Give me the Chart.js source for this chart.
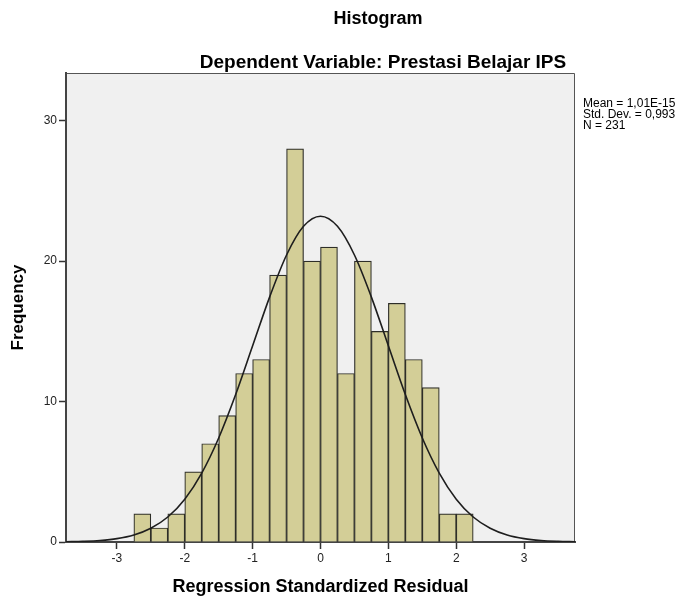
<!DOCTYPE html>
<html lang="en">
<head>
  <meta charset="UTF-8">
  <title>Histogram</title>
  <script src="https://cdn.jsdelivr.net/npm/chart.js"></script>
  <style>
    html, body { margin: 0; padding: 0; background: #ffffff; }
    #wrap { position: relative; width: 691px; height: 602px; }
  </style>
</head>
<body>
  <div id="wrap">
    <canvas id="histChart" width="691" height="602"></canvas>
  </div>

  <script>
    // bin centres (bin width 0.25) and counts
    const binCenters = [-2.625, -2.375, -2.125, -1.875, -1.625, -1.375, -1.125, -0.875, -0.625, -0.375,
                        -0.125, 0.125, 0.375, 0.625, 0.875, 1.125, 1.375, 1.625, 1.875, 2.125];
    const frequencies = [2, 1, 2, 5, 7, 9, 12, 13, 19, 28, 20, 21, 12, 20, 15, 17, 13, 11, 2, 2];

    // normal curve
    const curveX = [-3.75, -3.5, -3.25, -3, -2.75, -2.5, -2.25, -2, -1.75, -1.5, -1.25, -1, -0.75, -0.5, -0.25,
                    0, 0.25, 0.5, 0.75, 1, 1.25, 1.5, 1.75, 2, 2.25, 2.5, 2.75, 3, 3.25, 3.5, 3.75];
    const curveY = [0.02, 0.05, 0.11, 0.24, 0.50, 0.98, 1.78, 3.05, 4.91, 7.41, 10.50, 13.97, 17.44, 20.44, 22.48,
                    23.20, 22.48, 20.44, 17.44, 13.97, 10.50, 7.41, 4.91, 3.05, 1.78, 0.98, 0.50, 0.24, 0.11, 0.05, 0.02];

    const xTicks = [-3, -2, -1, 0, 1, 2, 3];
    const yTicks = [0, 10, 20, 30];
    const statsLines = ['Mean = 1,01E-15', 'Std. Dev. = 0,993', 'N = 231'];

    const FONT = '"Liberation Sans", Arial, sans-serif';

    // grey plot background + thin frame, titles and stats box
    const spssDecor = {
      id: 'spssDecor',
      beforeDraw(chart) {
        const { ctx, chartArea: a } = chart;
        ctx.save();
        ctx.fillStyle = '#f0f0f0';
        ctx.fillRect(a.left, a.top, a.right - a.left, a.bottom - a.top);
        ctx.strokeStyle = '#555555';
        ctx.lineWidth = 1;
        ctx.beginPath();
        ctx.moveTo(a.left, a.top + 0.5);
        ctx.lineTo(a.right - 0.5, a.top + 0.5);
        ctx.lineTo(a.right - 0.5, a.bottom);
        ctx.stroke();
        ctx.restore();
      },
      afterDraw(chart) {
        const { ctx, chartArea: a } = chart;
        ctx.save();
        ctx.fillStyle = '#000000';
        ctx.textBaseline = 'middle';
        ctx.textAlign = 'center';
        ctx.font = 'bold 18px ' + FONT;
        ctx.fillText('Histogram', 378, 19);
        ctx.font = 'bold 19px ' + FONT;
        ctx.fillText('Dependent Variable: Prestasi Belajar IPS', 383, 63);

        ctx.textAlign = 'left';
        ctx.font = '12px ' + FONT;
        statsLines.forEach((t, i) => ctx.fillText(t, a.right + 8, 104 + i * 11));
        ctx.restore();
      }
    };

    new Chart(document.getElementById('histChart'), {
      type: 'bar',
      data: {
        datasets: [
          {
            type: 'line',
            data: curveX.map((x, i) => ({ x: x, y: curveY[i] })),
            borderColor: '#1e1e1e',
            borderWidth: 1.6,
            pointRadius: 0,
            cubicInterpolationMode: 'monotone',
            fill: false,
            order: 0
          },
          {
            type: 'bar',
            data: binCenters.map((x, i) => ({ x: x, y: frequencies[i] })),
            backgroundColor: '#d3ce97',
            borderColor: '#2e2e28',
            borderWidth: 1.2,
            barPercentage: 1,
            categoryPercentage: 1,
            order: 1
          }
        ]
      },
      options: {
        responsive: false,
        animation: false,
        layout: { padding: { left: 0, top: 73, right: 116, bottom: 0 } },
        plugins: {
          legend: { display: false },
          tooltip: { enabled: false }
        },
        scales: {
          x: {
            type: 'linear',
            min: -3.75,
            max: 3.75,
            offset: false,
            afterBuildTicks: s => { s.ticks = xTicks.map(v => ({ value: v })); },
            afterFit: s => { s.height = 60; },
            grid: { offset: false, drawOnChartArea: false, drawTicks: true, tickLength: 7, tickColor: '#333333', tickWidth: 1.5 },
            border: { display: true, color: '#444444', width: 2 },
            ticks: { color: '#222222', font: { family: FONT, size: 12 }, padding: 2, maxRotation: 0 },
            title: {
              display: true,
              text: 'Regression Standardized Residual',
              color: '#000000',
              font: { family: FONT, size: 18, weight: 'bold' },
              padding: { top: 0, bottom: 4 }
            }
          },
          y: {
            min: 0,
            max: 33.4,
            afterBuildTicks: s => { s.ticks = yTicks.map(v => ({ value: v })); },
            afterFit: s => { s.width = 66; },
            grid: { drawOnChartArea: false, drawTicks: true, tickLength: 7, tickColor: '#333333', tickWidth: 1.5 },
            border: { display: true, color: '#444444', width: 2 },
            ticks: { color: '#222222', font: { family: FONT, size: 12 }, padding: 2 },
            title: {
              display: true,
              text: 'Frequency',
              color: '#000000',
              font: { family: FONT, size: 17, weight: 'bold' },
              padding: { top: 8, bottom: 0 }
            }
          }
        }
      },
      plugins: [spssDecor]
    });
  </script>
</body>
</html>
